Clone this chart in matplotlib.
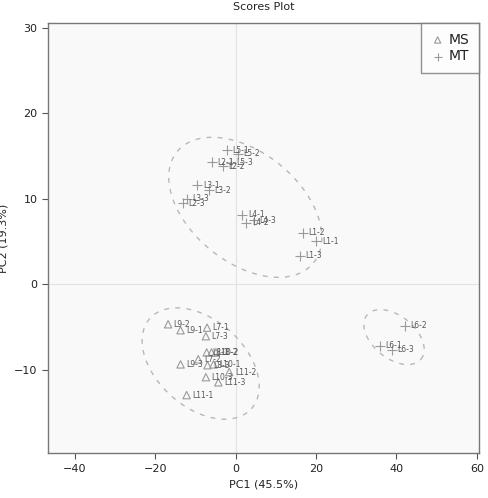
import numpy as np
import matplotlib
matplotlib.use("Agg")
import matplotlib.pyplot as plt

# scores
mt_labels = ["L1-1", "L1-2", "L1-3", "L2-1", "L2-2", "L2-3", "L3-1", "L3-2", "L3-3",
             "L4-1", "L4-2", "L4-3", "L5-1", "L5-2", "L5-3", "L6-1", "L6-2", "L6-3"]
mt_pc1 = [20.1, 16.8, 16.0, -6.0, -3.1, -13.2, -9.5, -6.6, -12.2,
          1.7, 2.7, 4.5, -2.1, 0.6, -1.2, 35.9, 42.1, 38.8]
mt_pc2 = [5.0, 6.0, 3.3, 14.3, 13.8, 9.5, 11.6, 11.0, 10.0,
          8.1, 7.2, 7.5, 15.7, 15.3, 14.2, -7.2, -4.9, -7.7]

ms_labels = ["L7-1", "L7-2", "L7-3", "L8-1", "L8-2", "L8-3", "L9-1", "L9-2", "L9-3",
             "L10-1", "L10-2", "L10-3", "L11-1", "L11-2", "L11-3"]
ms_pc1 = [-7.1, -9.3, -7.4, -7.2, -4.9, -7.0, -13.7, -16.8, -13.7,
          -5.5, -6.0, -7.4, -12.2, -1.6, -4.3]
ms_pc2 = [-5.1, -8.8, -6.1, -8.0, -8.0, -9.5, -5.4, -4.7, -9.4,
          -9.4, -8.0, -10.9, -13.0, -10.3, -11.5]

# group ellipses: centre and the two semi-axis vectors (data units)
ell_center = [(2.4, 9.0), (-8.7, -9.3), (39.4, -6.2)]
ell_axis1 = [(17.0, -6.5), (12.6, -5.3), (6.7, -2.6)]
ell_axis2 = [(8.6, 5.0), (7.3, 3.8), (3.4, 1.9)]

grey = "#9a9a9a"
txt = "#555555"

fig = plt.figure(figsize=(4.89, 4.98), dpi=100)
ax = fig.add_axes([0.098, 0.090, 0.882, 0.864])
ax.set_facecolor("#f9f9f9")

ax.axhline(0, color="#e2e2e2", lw=0.8, zorder=0)
ax.axvline(0, color="#e2e2e2", lw=0.8, zorder=0)

# dashed group ellipses
phi = np.linspace(0, 2 * np.pi, 200)
for c, a1, a2 in zip(ell_center, ell_axis1, ell_axis2):
    ex = c[0] + a1[0] * np.cos(phi) + a2[0] * np.sin(phi)
    ey = c[1] + a1[1] * np.cos(phi) + a2[1] * np.sin(phi)
    ax.plot(ex, ey, color="#b8b8b8", lw=1.0, dashes=(3.5, 4.5), zorder=2)

ax.scatter(ms_pc1, ms_pc2, marker="^", s=28, facecolors="none", edgecolors=grey,
           linewidths=0.8, label="MS", zorder=3)
ax.scatter(mt_pc1, mt_pc2, marker="+", s=45, color=grey, linewidths=0.8,
           label="MT", zorder=3)

for lab, x, y in zip(ms_labels + mt_labels, ms_pc1 + mt_pc1, ms_pc2 + mt_pc2):
    ax.annotate(lab, (x, y), xytext=(4, 0), textcoords="offset points",
                fontsize=5.5, color=txt, va="center", ha="left")

ax.set_xlim(-46.7, 60.6)
ax.set_ylim(-19.8, 30.6)
ax.set_xticks([-40, -20, 0, 20, 40, 60])
ax.set_xticklabels(["\u221240", "\u221220", "0", "20", "40", "60"])
ax.set_yticks([-10, 0, 10, 20, 30])
ax.set_yticklabels(["\u221210", "0", "10", "20", "30"])

for s in ax.spines.values():
    s.set_color("#777777")
    s.set_linewidth(1.0)
ax.tick_params(colors="#555555", labelcolor="#222222", labelsize=8, length=4, width=0.8)

ax.set_xlabel("PC1 (45.5%)", fontsize=8, color="#222222")
ax.set_ylabel("PC2 (19.3%)", fontsize=8, color="#222222")
ax.set_title("Scores Plot", fontsize=8, color="#222222", pad=9)

leg = ax.legend(loc="upper right", fontsize=10, frameon=True, fancybox=False,
                borderaxespad=0, handletextpad=0.3, borderpad=0.7, handlelength=1.0,
                labelspacing=0.2, markerscale=0.85)
leg.get_frame().set_edgecolor("#777777")
leg.get_frame().set_linewidth(1.0)
leg.get_frame().set_facecolor("white")
for t in leg.get_texts():
    t.set_color("#222222")

fig.savefig("out.png", dpi=100)
